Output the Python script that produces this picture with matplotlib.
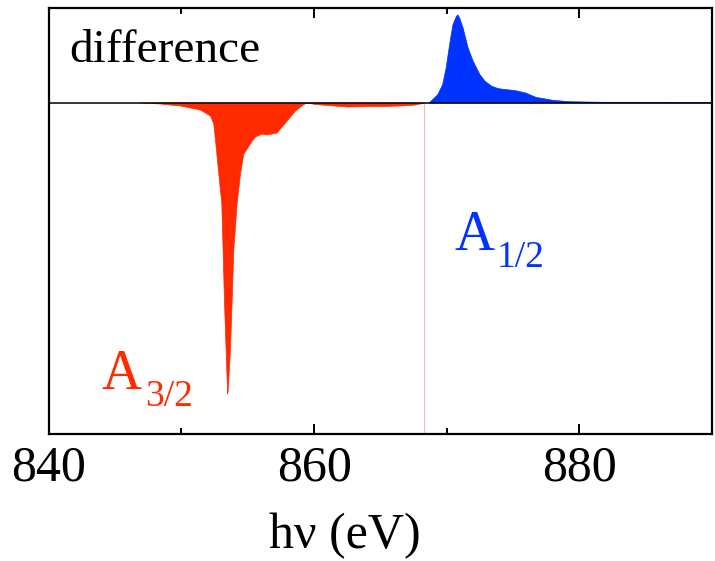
# XMCD difference spectrum, Ni L edges, redrawn from the figure
import numpy as np
import matplotlib
matplotlib.use('Agg')
import matplotlib.pyplot as plt
from matplotlib.ticker import MultipleLocator
from matplotlib.transforms import offset_copy

plt.rcParams['font.family'] = ['Liberation Serif', 'DejaVu Serif']

# negative part (L3 edge)
red_x = [846.9, 848.4, 849.9, 851.4, 852.15, 852.4, 852.65, 852.9, 853.0, 853.1,
         853.2, 853.33, 853.44, 853.48, 853.65, 853.78, 853.9, 854.16, 854.41, 854.66,
         854.91, 855.29, 855.54, 856.04, 856.42, 857.17, 857.42, 857.93, 858.55, 859.18,
         859.46, 860.06, 862.47, 864.96, 866.47, 867.6, 868.31]
red_y = [0.0, -0.01, -0.03, -0.07, -0.13, -0.21, -0.54, -0.88, -1.0, -1.48,
         -1.98, -2.48, -2.91, -2.88, -2.48, -1.98, -1.48, -1.0, -0.71, -0.51,
         -0.46, -0.38, -0.34, -0.31, -0.32, -0.30, -0.26, -0.18, -0.08, -0.015,
         0.0, -0.015, -0.04, -0.035, -0.03, -0.02, 0.0]

# positive part (L2 edge)
blue_x = [868.64, 869.28, 869.65, 869.91, 870.17, 870.42, 870.68, 870.8, 870.93, 871.19,
          871.57, 871.95, 872.46, 872.85, 873.36, 873.87, 875.15, 875.91, 876.68, 877.95,
          879.23, 881.79, 884.33, 886.89, 890.0]
blue_y = [0.0, 0.083, 0.183, 0.35, 0.58, 0.78, 0.867, 0.88, 0.85, 0.75,
          0.55, 0.417, 0.283, 0.217, 0.167, 0.143, 0.123, 0.10, 0.057, 0.027,
          0.013, 0.007, 0.007, 0.003, 0.003]

edge_split = 868.3
red = '#ff2a00'
blue = '#0033ff'

fig = plt.figure(figsize=(7.15, 5.61), dpi=100)
ax = fig.add_axes([0.0683, 0.2264, 0.9277, 0.7593])

ax.fill_between(red_x, red_y, 0, color=red, lw=0.5)
ax.fill_between(blue_x, blue_y, 0, color=blue, lw=0.5)
ax.axhline(0, color='black', lw=1.1, zorder=3)
ax.plot([edge_split, edge_split], [-3.4, 0], color='#ffb8b8', lw=0.8, zorder=1)

ax.set_xlim(840, 890)
ax.set_ylim(-3.315, 0.945)
ax.xaxis.set_major_locator(MultipleLocator(20))
ax.xaxis.set_minor_locator(MultipleLocator(10))
ax.set_yticks([])
ax.tick_params(axis='x', which='both', direction='in', top=True, width=1.4,
               labelsize=36, pad=8)
ax.tick_params(axis='x', which='major', length=7)
ax.tick_params(axis='x', which='minor', length=4)
for s in ax.spines.values():
    s.set_linewidth(1.6)

ax.set_xlabel('h\u03bd (eV)', fontsize=36)
ax.xaxis.set_label_coords(0.446, -0.185)

ax.text(0.031, 0.874, 'difference', transform=ax.transAxes, fontsize=34,
        va='baseline', ha='left')

# edge labels: big A with a lowered, smaller subscript
def edge_label(x, y, sub, color):
    ax.text(x, y, 'A', transform=ax.transAxes, fontsize=40,
            va='baseline', ha='left', color=color)
    tr = offset_copy(ax.transAxes, fig=fig, x=31, y=-12.2, units='points')
    ax.text(x, y, sub, transform=tr, fontsize=27,
            va='baseline', ha='left', color=color)

edge_label(0.080, 0.106, '3/2', red)
edge_label(0.611, 0.432, '1/2', blue)

fig.savefig('out.png', dpi=100)
